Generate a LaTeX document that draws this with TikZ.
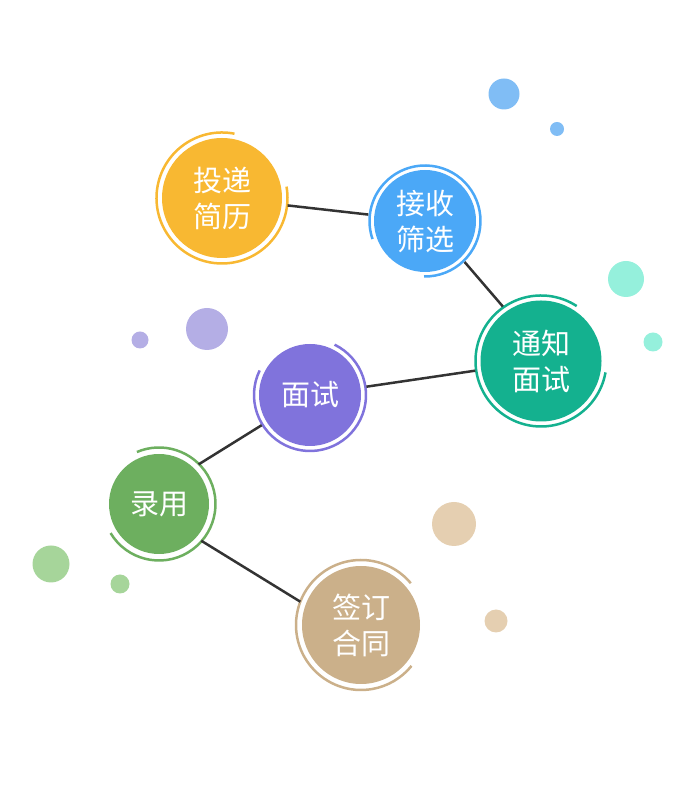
\documentclass[tikz,border=0pt]{standalone}
\usepackage{fontspec}
\usepackage{xcolor}
\usepackage{tikz}
\newfontfamily\cjk{Noto Sans CJK SC}

\definecolor{cYellow}{HTML}{F8B832}
\definecolor{cBlue}{HTML}{4BA8F7}
\definecolor{cTeal}{HTML}{14B18F}
\definecolor{cPurple}{HTML}{8073DC}
\definecolor{cGreen}{HTML}{6DAF5F}
\definecolor{cTan}{HTML}{CBB08A}
\definecolor{dBlue}{HTML}{80BDF5}
\definecolor{dCyan}{HTML}{95F0DC}
\definecolor{dPurple}{HTML}{B4AEE5}
\definecolor{dGreen}{HTML}{A6D59A}
\definecolor{dTan}{HTML}{E5CFB1}
\definecolor{cLine}{HTML}{333333}

\begin{document}
\begin{tikzpicture}[x=1pt,y=1pt,%
% common options for the big circles:
stepball/.style = {circle, align=center, inner sep=0, outer sep=6pt,
            text=white, font=\cjk\fontsize{29pt}{36pt}\selectfont},
% common options for the open rings and the links:
ring/.style = {line width=2.5pt},
link/.style = {draw=cLine, line width=2.5pt}]
\useasboundingbox (0,0) rectangle (700,800);

% small spots
\fill[dBlue] (504,706) circle (15.5);
\fill[dBlue] (557,671) circle (7);
\fill[dCyan] (626,521) circle (18);
\fill[dCyan] (653,458) circle (9.5);
\fill[dPurple] (207,471) circle (21);
\fill[dPurple] (140,460) circle (8.5);
\fill[dGreen] (51,236) circle (18.5);
\fill[dGreen] (120,216) circle (9.5);
\fill[dTan] (454,276) circle (22);
\fill[dTan] (496,179) circle (11.5);

\node[stepball,fill=cYellow,minimum size=120pt] (S1) at (222,602) {投递\\简历};
\node[stepball,fill=cBlue,minimum size=102pt] (S2) at (425,579) {接收\\筛选};
\node[stepball,fill=cTeal,minimum size=121pt] (S3) at (541,439) {通知\\面试};
\node[stepball,fill=cPurple,minimum size=102pt] (S4) at (310,405) {面试};
\node[stepball,fill=cGreen,minimum size=100pt] (S5) at (159,296) {录用};
\node[stepball,fill=cTan,minimum size=118pt] (S6) at (361,175) {签订\\合同};

\draw[ring,cYellow] ([shift={(79:65.5)}]S1.center) arc[start angle=79, end angle=370, radius=65.5];
\draw[ring,cBlue] ([shift={(-91:55.5)}]S2.center) arc[start angle=-91, end angle=199, radius=55.5];
\draw[ring,cTeal] ([shift={(57:65.5)}]S3.center) arc[start angle=57, end angle=350, radius=65.5];
\draw[ring,cPurple] ([shift={(154:56)}]S4.center) arc[start angle=154, end angle=424, radius=56];
\draw[ring,cGreen] ([shift={(211:56.5)}]S5.center) arc[start angle=211, end angle=473, radius=56.5];
\draw[ring,cTan] ([shift={(40:65)}]S6.center) arc[start angle=40, end angle=321, radius=65];

\draw[link] (S1) -- (S2);
\draw[link] (S2.-46) -- (S3.125);
\draw[link] (S3) -- (S4);
\draw[link] (S4.212) -- (S5.45);
\draw[link] (S5.-41) -- (S6.159);
\end{tikzpicture}
\end{document}
